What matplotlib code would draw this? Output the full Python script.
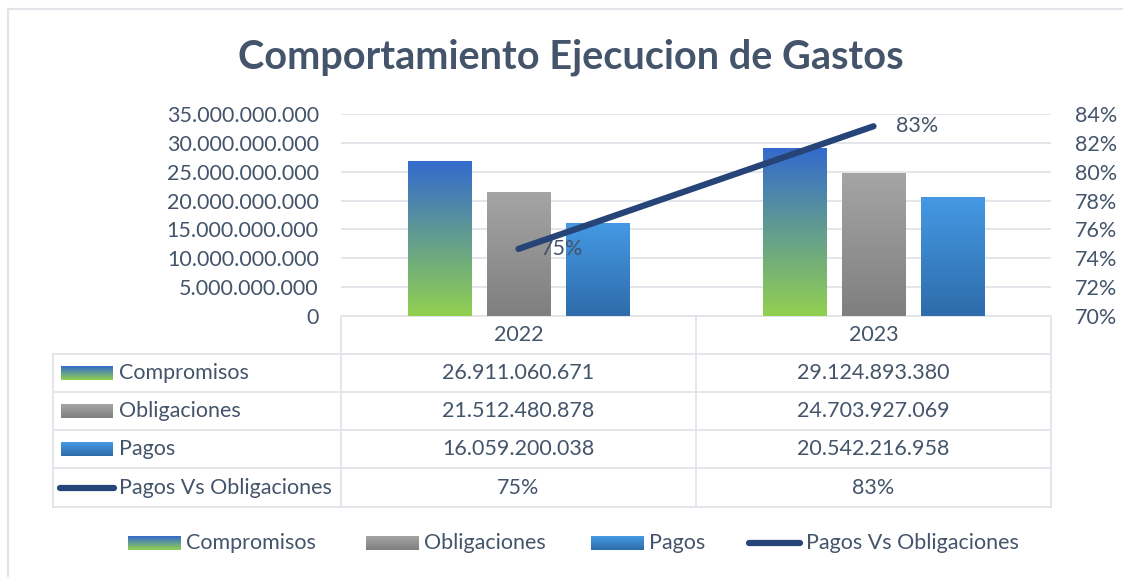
import numpy as np
import matplotlib
matplotlib.use("Agg")
import matplotlib.pyplot as plt
from matplotlib.colors import LinearSegmentedColormap

plt.rcParams['font.family'] = ['Lato', 'DejaVu Sans']

# data
years = ["2022", "2023"]
compromisos = [26911060671, 29124893380]
obligaciones = [21512480878, 24703927069]
pagos = [16059200038, 20542216958]
pagos_vs_oblig = [0.7465, 0.8315]

series_names = ["Compromisos", "Obligaciones", "Pagos"]
grad_colors = [("#336ACE", "#92D050"), ("#A5A5A5", "#7F7F7F"), ("#4599E4", "#2E6CAA")]
line_color = "#264478"
text_color = "#44546A"
grid_color = "#E1E5EA"
fs = 15.5

W, H = 1123, 577


def fmt_num(v):
    return f"{v:,.0f}".replace(",", ".")


def gradient(ax, x0, x1, ybot, ytop, ctop, cbot, clip=None, z=3):
    cmap = LinearSegmentedColormap.from_list("g", [ctop, cbot])
    arr = np.linspace(0, 1, 256).reshape(-1, 1)
    im = ax.imshow(arr, cmap=cmap, extent=(x0, x1, ybot, ytop), origin="upper",
                   aspect="auto", zorder=z, interpolation="bilinear")
    if clip is not None:
        im.set_clip_path(clip)
    return im


fig = plt.figure(figsize=(W / 100, H / 100), dpi=100)

# overlay in pixel coords for table, legend, title
ov = fig.add_axes([0, 0, 1, 1])
ov.set_xlim(0, W)
ov.set_ylim(H, 0)
ov.axis("off")

# main axes
left, right, top, bottom = 341, 1051, 114, 316
ax = fig.add_axes([left / W, 1 - bottom / H, (right - left) / W, (bottom - top) / H])
ax.set_facecolor("none")
x = np.arange(len(years))
ax.set_xlim(-0.5, len(years) - 0.5)
ax.set_ylim(0, 35e9)
ax.set_yticks(np.arange(0, 35e9 + 1, 5e9))
ax.set_yticklabels([fmt_num(v) for v in np.arange(0, 35e9 + 1, 5e9)])
ax.tick_params(axis="y", length=0, pad=16, labelsize=fs, labelcolor=text_color)
ax.set_xticks([])
for s in ax.spines.values():
    s.set_visible(False)
ax.grid(axis="y", color=grid_color, lw=1.3)
ax.set_axisbelow(True)

bw = 0.178
offs = [-0.2225, 0, 0.2225]
for vals, off, (ct, cb) in zip([compromisos, obligaciones, pagos], offs, grad_colors):
    bars = ax.bar(x + off, vals, bw, color="none", edgecolor="none", zorder=3)
    for b in bars:
        gradient(ax, b.get_x(), b.get_x() + b.get_width(), 0, b.get_height(), ct, cb, clip=b)
ax.set_xlim(-0.5, len(years) - 0.5)
ax.set_ylim(0, 35e9)

ax2 = ax.twinx()
ax2.set_ylim(0.70, 0.84)
ax2.set_yticks(np.arange(0.70, 0.841, 0.02))
ax2.set_yticklabels([f"{v:.0%}" for v in np.arange(0.70, 0.841, 0.02)])
ax2.tick_params(axis="y", length=0, pad=17, labelsize=fs, labelcolor=text_color)
for s in ax2.spines.values():
    s.set_visible(False)
ax2.plot(x, pagos_vs_oblig, color=line_color, lw=4.5, solid_capstyle="round", zorder=5)
for xi, v in zip(x, pagos_vs_oblig):
    ax2.annotate(f"{v:.0%}", (xi, v), xytext=(16, 0), textcoords="offset points",
                 ha="left", va="center", fontsize=fs, color=text_color)

# title
ov.text(571, 57, "Comportamiento Ejecucion de Gastos", ha="center", va="center",
        fontsize=28.5, fontweight="bold", color=text_color)

# chart border (left/top visible)
ov.plot([8, 8, W + 5], [H + 5, 9, 9], color=grid_color, lw=1.5)

# data table
rows_y = [316, 354, 392, 430, 468, 507]
tl, c1, c2, tr = 53, 341, 696, 1051
lw_t = 1.3
ov.plot([c1, tr], [rows_y[0], rows_y[0]], color=grid_color, lw=lw_t)
for yy in rows_y[1:]:
    ov.plot([tl, tr], [yy, yy], color=grid_color, lw=lw_t)
ov.plot([tl, tl], [rows_y[1], rows_y[-1]], color=grid_color, lw=lw_t)
for xx in [c1, c2, tr]:
    ov.plot([xx, xx], [rows_y[0], rows_y[-1]], color=grid_color, lw=lw_t)

col_centers = [(c1 + c2) / 2, (c2 + tr) / 2]
for cx, yr in zip(col_centers, years):
    ov.text(cx, (rows_y[0] + rows_y[1]) / 2, yr, ha="center", va="center",
            fontsize=fs, color=text_color)

table_vals = [[fmt_num(v) for v in compromisos],
              [fmt_num(v) for v in obligaciones],
              [fmt_num(v) for v in pagos],
              [f"{v:.0%}" for v in pagos_vs_oblig]]
row_labels = series_names + ["Pagos Vs Obligaciones"]
for i, (lab, vals) in enumerate(zip(row_labels, table_vals)):
    yc = (rows_y[i + 1] + rows_y[i + 2]) / 2
    if i < 3:
        gradient(ov, 61, 113, yc + 7, yc - 7, grad_colors[i][0], grad_colors[i][1], z=3)
    else:
        ov.plot([60, 114], [yc, yc], color=line_color, lw=4.5, solid_capstyle="round")
    ov.text(119, yc, lab, ha="left", va="center", fontsize=fs, color=text_color)
    for cx, v in zip(col_centers, vals):
        ov.text(cx, yc, v, ha="center", va="center", fontsize=fs, color=text_color)

# bottom legend
ly = 543
leg_x = [128, 366, 591, 748]
for i, lx in enumerate(leg_x):
    if i < 3:
        gradient(ov, lx, lx + 53, ly + 7, ly - 7, grad_colors[i][0], grad_colors[i][1], z=3)
    else:
        ov.plot([lx + 1, lx + 52], [ly, ly], color=line_color, lw=4.5, solid_capstyle="round")
    ov.text(lx + 58, ly, row_labels[i], ha="left", va="center", fontsize=fs, color=text_color)

ov.set_xlim(0, W)
ov.set_ylim(H, 0)

fig.savefig("out.png", dpi=100)
